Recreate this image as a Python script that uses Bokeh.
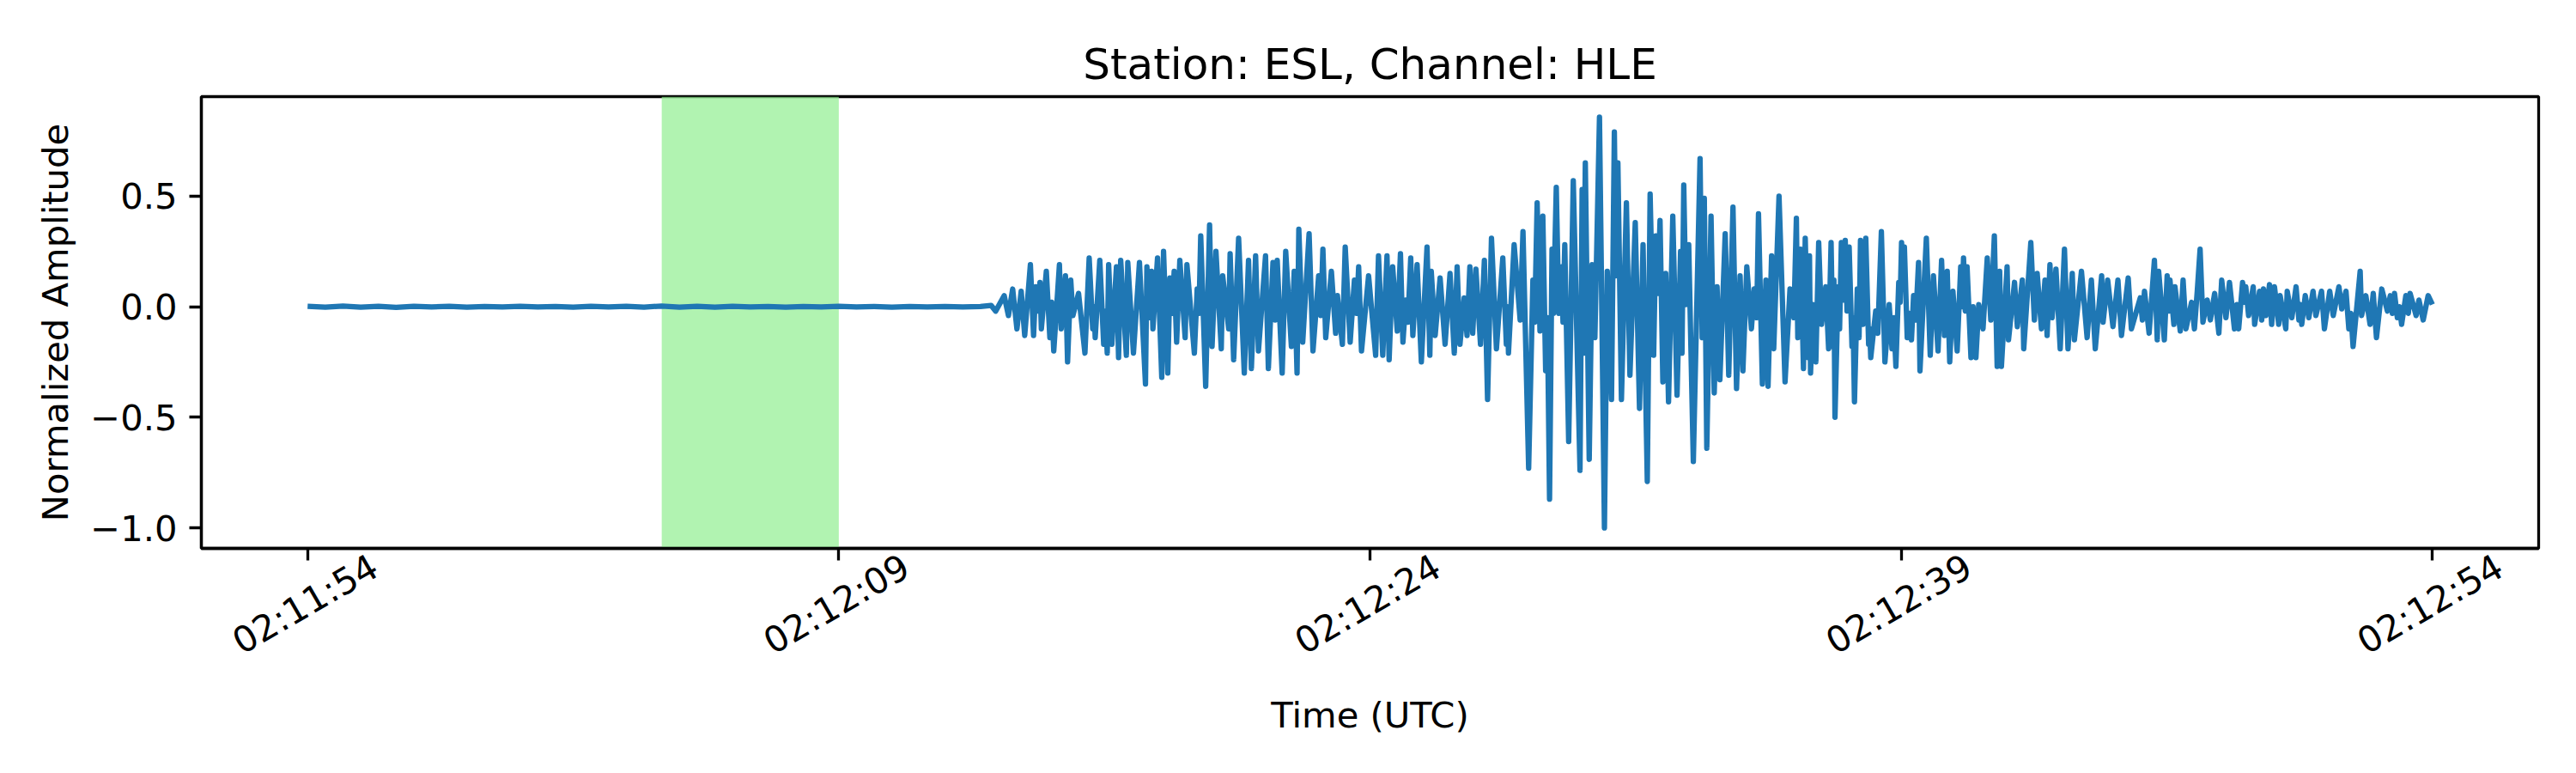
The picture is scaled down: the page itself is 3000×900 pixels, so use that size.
import math

from bokeh.embed import file_html
from bokeh.models import (BoxAnnotation, ColumnDataSource, CustomJSTickFormatter, CustomLabelingPolicy,
                          FixedTicker, LinearAxis, Range1d)
from bokeh.plotting import figure
from bokeh.resources import INLINE

title = "Station: ESL, Channel: HLE"
tick_secs = [0, 15, 30, 45, 60]
tick_labels = ["02:11:54", "02:12:09", "02:12:24", "02:12:39", "02:12:54"]
y_ticks = [-1.0, -0.5, 0.0, 0.5]
window = [10, 15]  # highlighted window, seconds after 02:11:54

# quiet part before the arrival (seconds after 02:11:54, normalized amplitude)
pre_t = [0.0, 0.5, 1.0, 1.5, 2.0, 2.5, 3.0, 3.5, 4.0, 4.5, 5.0, 5.5, 6.0, 6.5,
         7.0, 7.5, 8.0, 8.5, 9.0, 9.5, 10.0, 10.5, 11.0, 11.5, 12.0, 12.5, 13.0,
         13.5, 14.0, 14.5, 15.0, 15.5, 16.0, 16.5, 17.0, 17.5, 18.0, 18.5, 19.0,
         19.3, 19.43]
pre_amp = [0.002, -0.002, 0.003, -0.002, 0.002, -0.003, 0.002, -0.001, 0.002,
           -0.002, 0.001, -0.001, 0.002, -0.001, 0.001, -0.002, 0.002, -0.001,
           0.002, -0.002, 0.003, -0.002, 0.002, -0.002, 0.002, -0.001, 0.001,
           -0.002, 0.001, -0.001, 0.002, -0.001, 0.001, -0.002, 0.001, -0.001,
           0.001, -0.001, 0.001, 0.006, -0.02]

# peaks and troughs, (time, amplitude)
onset = [
    (19.67, 0.05), (19.79, -0.04), (19.91, 0.08), (20.03, -0.10), (20.15, 0.07),
    (20.25, -0.13), (20.41, 0.19), (20.50, -0.13), (20.56, 0.09), (20.62, -0.02),
    (20.68, 0.11), (20.72, -0.10), (20.86, 0.16), (20.96, -0.14), (21.01, 0.02),
    (21.07, -0.20), (21.23, 0.19), (21.28, -0.10), (21.40, 0.14), (21.46, -0.25),
    (21.55, 0.12), (21.61, -0.04), (21.77, 0.06), (21.95, -0.21), (22.07, 0.22),
    (22.17, -0.10), (22.21, 0.00), (22.24, -0.14), (22.37, 0.21), (22.48, -0.17),
    (22.53, -0.02), (22.58, -0.21), (22.62, 0.19), (22.71, -0.17), (22.84, 0.18),
    (22.90, -0.23), (22.96, 0.21), (23.12, -0.22), (23.16, 0.20), (23.32, -0.21),
    (23.49, 0.20), (23.66, -0.35), (23.70, 0.18), (23.76, -0.05), (23.83, 0.16),
    (23.87, -0.10), (24.00, 0.22), (24.12, -0.32), (24.17, 0.25), (24.29, -0.30),
    (24.35, 0.13), (24.41, -0.03), (24.47, 0.16), (24.54, -0.16), (24.63, 0.21),
    (24.78, -0.14), (24.83, 0.19), (25.04, -0.21), (25.12, 0.08), (25.17, -0.03),
    (25.22, 0.32), (25.36, -0.36), (25.47, 0.37), (25.54, -0.18), (25.65, 0.25),
    (25.80, -0.19), (25.84, 0.14), (26.01, -0.10), (26.05, 0.24), (26.15, -0.24),
    (26.29, 0.31), (26.45, -0.30), (26.57, 0.21), (26.65, -0.28), (26.77, 0.23),
    (26.85, -0.20), (27.05, 0.23), (27.13, -0.28), (27.26, 0.20), (27.32, -0.06),
    (27.38, 0.21), (27.52, -0.30), (27.62, 0.25), (27.78, -0.18), (27.86, 0.16),
    (27.94, -0.30), (27.99, 0.35), (28.10, -0.16), (28.28, 0.33), (28.39, -0.20),
    (28.55, 0.14), (28.61, -0.04), (28.67, 0.26), (28.75, -0.14), (28.91, 0.16),
    (29.03, -0.12), (29.08, 0.05), (29.22, -0.17), (29.30, 0.27), (29.44, -0.16),
    (29.56, 0.12), (29.62, -0.03), (29.68, 0.18), (29.76, -0.20), (29.96, 0.14),
    (30.16, -0.22), (30.24, 0.23), (30.36, -0.22), (30.48, 0.23), (30.54, -0.24),
]

strong_motion = [
    (30.64, 0.18), (30.77, -0.11), (30.86, 0.24), (30.93, -0.16), (31.01, 0.03),
    (31.07, -0.07), (31.15, 0.22), (31.21, -0.13), (31.33, 0.19), (31.45, -0.25),
    (31.61, 0.27), (31.69, -0.22), (31.73, 0.16), (31.84, -0.13), (31.98, 0.13),
    (32.12, -0.17), (32.26, 0.15), (32.38, -0.21), (32.46, 0.18), (32.54, -0.17),
    (32.66, 0.04), (32.74, -0.13), (32.82, 0.18), (32.90, -0.12), (32.99, 0.17),
    (33.12, -0.17), (33.23, 0.21), (33.32, -0.42), (33.43, 0.31), (33.57, -0.19),
    (33.75, 0.22), (33.85, -0.17), (33.88, 0.00), (33.91, -0.21), (34.07, 0.28),
    (34.24, -0.06), (34.32, 0.34), (34.48, -0.73), (34.60, 0.12), (34.65, -0.07),
    (34.72, 0.47), (34.80, -0.11), (34.88, 0.41), (34.96, -0.29), (35.01, -0.05),
    (35.07, -0.87), (35.14, 0.26), (35.18, -0.03), (35.26, 0.54), (35.33, -0.03),
    (35.41, 0.18), (35.45, -0.07), (35.50, 0.28), (35.61, -0.61), (35.74, 0.57),
    (35.93, -0.74), (35.99, 0.53), (36.03, -0.21), (36.08, 0.65), (36.19, -0.69),
    (36.27, 0.19), (36.35, -0.14), (36.48, 0.857), (36.62, -1.00), (36.70, 0.16),
    (36.82, -0.42), (36.90, 0.79), (36.95, 0.14), (37.00, 0.65), (37.10, -0.42),
    (37.24, 0.47), (37.34, -0.31), (37.49, 0.38), (37.61, -0.46), (37.71, 0.28),
    (37.83, -0.79), (37.91, 0.51), (38.01, -0.22), (38.07, 0.32), (38.13, 0.06),
    (38.19, 0.39), (38.27, -0.34), (38.35, 0.15), (38.43, -0.43), (38.55, 0.41),
    (38.67, -0.40), (38.77, 0.25), (38.81, -0.21), (38.86, 0.55), (38.92, 0.01),
    (39.00, 0.28), (39.13, -0.70), (39.32, 0.67), (39.38, -0.14), (39.44, 0.49),
    (39.51, -0.64), (39.63, 0.41), (39.72, -0.39), (39.80, 0.09), (39.88, -0.33),
    (40.03, 0.33), (40.13, -0.31), (40.25, 0.45), (40.35, -0.37), (40.45, 0.14),
    (40.53, -0.29), (40.64, 0.18), (40.77, -0.10), (40.85, 0.08), (40.92, -0.05),
    (40.97, 0.42), (41.08, -0.35), (41.18, 0.12), (41.24, -0.36), (41.34, 0.23),
    (41.40, -0.19), (41.55, 0.50), (41.72, -0.34),
]

coda = [
    (41.86, 0.08), (41.97, -0.05), (42.04, 0.40), (42.08, -0.14), (42.16, 0.26),
    (42.24, -0.28), (42.29, 0.31), (42.37, -0.23), (42.41, 0.23), (42.44, -0.30),
    (42.51, 0.01), (42.59, -0.25), (42.67, 0.29), (42.75, -0.08), (42.87, 0.09),
    (42.95, -0.19), (43.02, 0.29), (43.07, -0.18), (43.10, 0.12), (43.13, -0.50),
    (43.22, 0.09), (43.26, -0.10), (43.31, 0.29), (43.36, 0.03), (43.42, 0.30),
    (43.47, -0.02), (43.53, 0.27), (43.61, -0.18), (43.64, -0.05), (43.68, -0.43),
    (43.76, 0.08), (43.81, -0.14), (43.85, 0.30), (43.92, -0.08), (44.00, 0.31),
    (44.08, -0.17), (44.11, -0.10), (44.14, -0.23), (44.28, -0.02), (44.34, -0.12),
    (44.44, 0.34), (44.54, -0.25), (44.66, 0.01), (44.74, -0.19), (44.79, -0.05),
    (44.85, -0.27), (44.93, 0.11), (44.97, 0.02), (45.01, 0.29), (45.05, 0.15),
    (45.09, 0.27), (45.17, -0.14), (45.23, -0.03), (45.29, -0.15), (45.35, 0.05),
    (45.41, -0.06), (45.49, 0.20), (45.53, -0.29), (45.71, 0.31), (45.82, -0.22),
    (45.91, 0.14), (46.04, -0.20), (46.14, 0.21), (46.22, -0.13), (46.30, 0.16),
    (46.37, -0.25), (46.46, 0.07), (46.58, -0.20), (46.68, 0.18), (46.72, 0.00),
    (46.76, 0.22), (46.81, -0.02), (46.86, 0.18), (46.97, -0.23), (47.03, 0.00),
    (47.11, -0.23), (47.19, 0.01), (47.31, -0.10), (47.43, 0.22), (47.53, -0.06),
    (47.63, 0.32), (47.71, -0.27), (47.78, 0.16), (47.83, -0.27), (47.99, 0.18),
    (48.03, -0.15), (48.20, 0.11), (48.28, -0.09), (48.42, 0.12), (48.46, -0.19),
    (48.66, 0.29), (48.76, -0.06), (48.84, 0.15), (48.96, -0.10), (49.06, 0.12),
    (49.12, -0.13), (49.20, 0.19), (49.26, -0.05), (49.37, 0.17), (49.49, -0.19),
    (49.61, 0.26), (49.71, -0.19), (49.83, 0.15), (49.89, -0.15), (50.09, 0.16),
    (50.25, -0.14), (50.37, 0.12), (50.48, -0.19), (50.66, 0.14), (50.70, -0.07),
    (50.83, 0.12), (50.98, -0.09), (51.12, 0.12), (51.22, -0.13), (51.41, 0.13),
    (51.50, -0.10), (51.75, 0.04), (51.81, -0.06), (51.87, 0.07), (52.00, -0.12),
    (52.15, 0.21), (52.23, -0.15), (52.27, 0.16), (52.43, -0.15), (52.51, 0.14),
    (52.55, -0.02), (52.59, 0.12), (52.70, -0.08), (52.73, 0.09), (52.88, -0.11),
    (52.96, 0.12), (53.04, -0.10), (53.20, 0.02), (53.28, -0.10), (53.36, 0.07),
]

tail = [
    (53.44, 0.26), (53.52, -0.07), (53.64, 0.03), (53.73, -0.06), (53.85, 0.06),
    (53.97, -0.12), (54.05, 0.12), (54.17, -0.05), (54.27, 0.11), (54.41, -0.10),
    (54.48, 0.01), (54.53, -0.10), (54.64, 0.11), (54.69, 0.02), (54.73, 0.09),
    (54.81, -0.04), (54.94, 0.09), (54.98, -0.08), (55.12, 0.07), (55.18, -0.06),
    (55.23, 0.08), (55.30, -0.04), (55.40, 0.10), (55.46, -0.08), (55.54, 0.09),
    (55.66, -0.08), (55.70, 0.05), (55.86, -0.10), (55.90, 0.07), (56.03, -0.05),
    (56.15, 0.09), (56.23, -0.06), (56.27, 0.01), (56.31, -0.08), (56.41, 0.05),
    (56.51, -0.05), (56.63, 0.07), (56.71, -0.04), (56.87, 0.07), (56.95, -0.10),
    (57.10, 0.07), (57.20, -0.04), (57.36, 0.09), (57.44, -0.01), (57.56, 0.07),
    (57.64, -0.10), (57.70, -0.03), (57.76, -0.18), (57.96, 0.16), (58.00, -0.04),
    (58.12, 0.05), (58.24, -0.08), (58.33, 0.06), (58.42, -0.14), (58.57, 0.08),
    (58.73, -0.02), (58.81, 0.05), (58.87, -0.03), (58.93, 0.06), (59.01, -0.05),
    (59.07, 0.00), (59.13, -0.08), (59.25, 0.05), (59.32, -0.03), (59.37, 0.06),
    (59.54, -0.04), (59.62, 0.03), (59.74, -0.06), (59.88, 0.05), (60.00, 0.01),
]

peaks = onset + strong_motion + coda + tail
t = pre_t + [p[0] for p in peaks]
amp = pre_amp + [p[1] for p in peaks]
src = ColumnDataSource(data=dict(t=t, amp=amp))

# matplotlib-like 5% margins
xpad = 0.05 * (max(t) - min(t))
ypad = 0.05 * (max(amp) - min(amp))

p = figure(
    title=title,
    frame_width=2722, frame_height=526,
    min_border_left=234, min_border_right=28, min_border_top=112, min_border_bottom=246,
    x_range=Range1d(min(t) - xpad, max(t) + xpad),
    y_range=Range1d(min(amp) - ypad, max(amp) + ypad),
    output_backend="svg", toolbar_location=None,
)
p.background_fill_color = "white"
p.border_fill_color = "white"
p.xgrid.visible = False
p.ygrid.visible = False
p.outline_line_color = "black"
p.outline_line_width = 3.3
p.outline_line_alpha = 1.0

p.title.align = "center"
p.title.text_font = "DejaVu Sans"
p.title.text_font_size = "50px"
p.title.text_font_style = "normal"
p.title.text_color = "black"
p.title.standoff = 18

p.add_layout(BoxAnnotation(left=window[0], right=window[1], fill_color="#90ee90",
                           fill_alpha=0.7, line_alpha=0, level="underlay"))

p.line("t", "amp", source=src, line_color="#1f77b4", line_width=6.25, line_join="round")

# bokeh anchors rotated labels at their end; this axis only carries the labels,
# moved right by half a label so they sit centred under the ticks like matplotlib's
label_shift = 1.9
time_axis = LinearAxis(
    ticker=FixedTicker(ticks=[s + label_shift for s in tick_secs]),
    major_label_overrides={s + label_shift: lab for s, lab in zip(tick_secs, tick_labels)},
    major_label_orientation=math.pi / 6,
    axis_label="Time (UTC)",
)
p.add_layout(time_axis, "below")

for ax in (p.xaxis[0], p.yaxis[0], time_axis):
    ax.axis_line_width = 3.3
    ax.major_tick_line_width = 3.3
    ax.major_tick_out = 14
    ax.major_tick_in = 0
    ax.minor_tick_out = 0
    ax.minor_tick_in = 0
    ax.major_label_standoff = 14
    ax.major_label_text_font = "DejaVu Sans"
    ax.major_label_text_font_size = "41.7px"
    ax.major_label_text_color = "black"
    ax.axis_label_text_font = "DejaVu Sans"
    ax.axis_label_text_font_size = "41.7px"
    ax.axis_label_text_font_style = "normal"
    ax.axis_label_text_color = "black"

p.xaxis[0].ticker = FixedTicker(ticks=tick_secs)
p.xaxis[0].major_label_standoff = 0
p.xaxis[0].major_label_policy = CustomLabelingPolicy(
    code="for (const i of indices) { indices.unset(i) } return indices")

time_axis.axis_line_alpha = 0
time_axis.major_tick_out = 0
time_axis.major_label_standoff = -29
time_axis.axis_label_standoff = 12

p.yaxis.axis_label = "Normalized Amplitude"
p.yaxis.ticker = FixedTicker(ticks=y_ticks)
p.yaxis.formatter = CustomJSTickFormatter(code="return tick.toFixed(1).replace('-', '\\u2212')")
p.yaxis.axis_label_standoff = 13

open("out.html", "w").write(file_html(p, INLINE))
